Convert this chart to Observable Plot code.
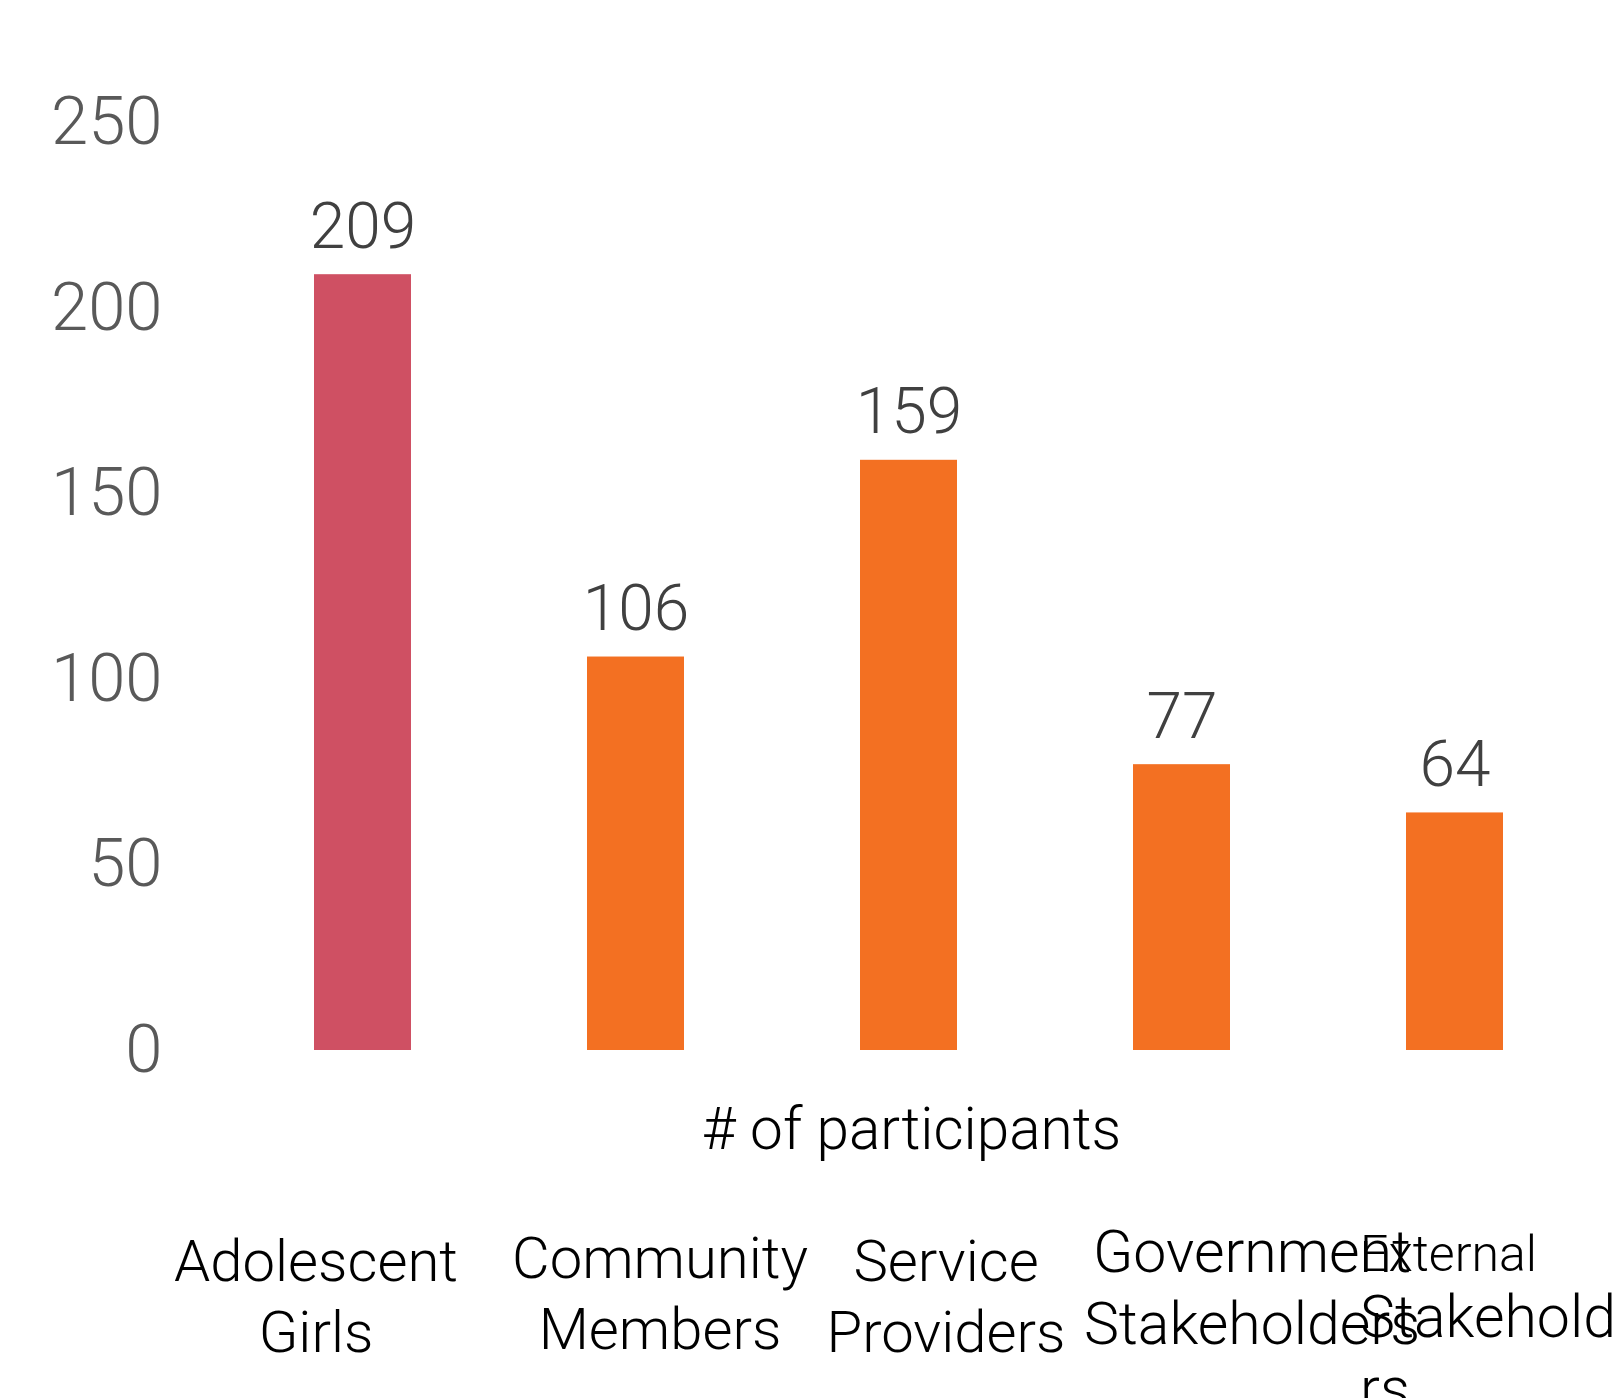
<!DOCTYPE html>
<html>
<head>
<meta charset="utf-8">
<script src="https://cdn.jsdelivr.net/npm/d3@7"></script>
<script src="https://cdn.jsdelivr.net/npm/@observablehq/plot@0.6"></script>
<style>
  html, body { margin: 0; padding: 0; background: #fff; }
  #chart svg { display: block; }
</style>
</head>
<body>
<div id="chart"></div>
<script>
const categories = ["Adolescent Girls", "Community Members", "Service Providers", "Government Stakeholders", "External Stakeholders"];
const values = [209, 106, 159, 77, 64];
const highlighted = ["Adolescent Girls"];
const yTicks = [0, 50, 100, 150, 200, 250];
const axisTitle = "# of participants";

const data = categories.map((c, i) => ({category: c, value: values[i]}));

const RED = "#CF5063";
const ORANGE = "#F37022";

// Category label rendering (line breaks and placement as in the original)
const labelStyles = [
  {cat: 0, text: "Adolescent\nGirls", dx: -47, dy: 301, fontSize: 58, anchor: "middle"},
  {cat: 1, text: "Community\nMembers", dx: 24, dy: 298, fontSize: 58, anchor: "middle"},
  {cat: 2, text: "Service\nProviders", dx: 37, dy: 301, fontSize: 58, anchor: "middle"},
  {cat: 3, text: "Government\nStakeholders", dx: 70, dy: 293, fontSize: 59, anchor: "middle"},
  {cat: 4, text: "External", dx: -95, dy: 220, fontSize: 50, anchor: "start"},
  {cat: 4, text: "Stakeholde\nrs", dx: -95, dy: 358, fontSize: 59, anchor: "start"}
];

const labelMarks = labelStyles.map(s =>
  Plot.text(data.filter(d => d.category === categories[s.cat]), {
    x: "category",
    frameAnchor: "bottom",
    text: () => s.text,
    lineAnchor: "bottom",
    lineHeight: 1.22,
    dx: s.dx,
    dy: s.dy,
    fontSize: s.fontSize,
    textAnchor: s.anchor,
    fill: "#000",
    fontWeight: 300
  })
);

const chart = Plot.plot({
  width: 1613,
  height: 1398,
  marginTop: 122,
  marginBottom: 348,
  marginLeft: 231,
  marginRight: 28,
  style: {fontFamily: "Roboto, 'Noto Sans', sans-serif", fontWeight: 300, background: "#fff", overflow: "hidden"},
  x: {domain: categories, paddingInner: 0.646, paddingOuter: 0.3, axis: null},
  y: {domain: [0, 250], axis: null},
  marks: [
    Plot.barY(data, {
      x: "category",
      y: "value",
      fill: d => highlighted.includes(d.category) ? RED : ORANGE
    }),
    Plot.text(data, {
      x: "category",
      y: "value",
      text: d => String(d.value),
      lineAnchor: "bottom",
      dy: -27,
      fontSize: 64,
      fill: "#404040",
      fontWeight: 300
    }),
    Plot.axisY({
      ticks: yTicks,
      tickSize: 0,
      tickPadding: 69,
      fontSize: 67,
      color: "#595959",
      label: null,
      fontWeight: 300
    }),
    Plot.text([axisTitle], {
      frameAnchor: "bottom",
      text: d => d,
      lineAnchor: "bottom",
      dx: 3,
      dy: 98,
      fontSize: 58.5,
      fill: "#000",
      fontWeight: 300
    }),
    ...labelMarks
  ]
});

document.getElementById("chart").appendChild(chart);
</script>
</body>
</html>
